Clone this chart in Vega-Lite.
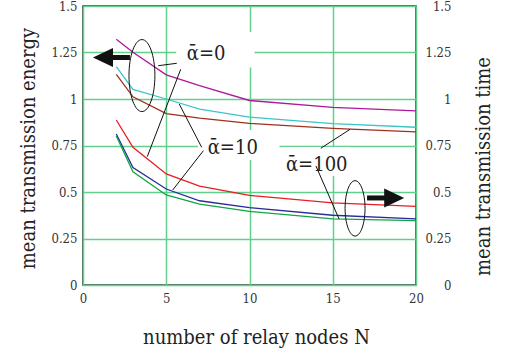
{
  "$schema": "https://vega.github.io/schema/vega-lite/v6.json",
  "autosize": "none",
  "width": 333,
  "height": 279,
  "padding": {"left": 83, "top": 6, "right": 92, "bottom": 65},
  "background": "white",
  "config": {
    "view": {"stroke": "#1e3b27", "strokeWidth": 1.5},
    "font": "DejaVu Serif Condensed, DejaVu Serif",
    "axis": {
      "labelFont": "DejaVu Serif Condensed, DejaVu Serif",
      "labelFontSize": 13,
      "labelColor": "#333333",
      "titleFont": "DejaVu Serif Condensed, DejaVu Serif",
      "titleFontSize": 20,
      "titleFontWeight": "normal",
      "titleColor": "#222222",
      "ticks": false,
      "domain": false,
      "gridColor": "#62cf8c",
      "gridWidth": 1.5,
      "gridOpacity": 1
    }
  },
  "datasets": {
    "lines": [
      {"s": "E0", "N": 2, "v": 1.321}, {"s": "E0", "N": 3, "v": 1.251}, {"s": "E0", "N": 5, "v": 1.130}, {"s": "E0", "N": 7, "v": 1.072}, {"s": "E0", "N": 10, "v": 0.992}, {"s": "E0", "N": 15, "v": 0.955}, {"s": "E0", "N": 20, "v": 0.936},
      {"s": "E10", "N": 2, "v": 1.174}, {"s": "E10", "N": 3, "v": 1.052}, {"s": "E10", "N": 5, "v": 1.000}, {"s": "E10", "N": 7, "v": 0.945}, {"s": "E10", "N": 10, "v": 0.902}, {"s": "E10", "N": 15, "v": 0.868}, {"s": "E10", "N": 20, "v": 0.848},
      {"s": "E100", "N": 2, "v": 1.133}, {"s": "E100", "N": 3, "v": 1.012}, {"s": "E100", "N": 5, "v": 0.921}, {"s": "E100", "N": 7, "v": 0.897}, {"s": "E100", "N": 10, "v": 0.869}, {"s": "E100", "N": 15, "v": 0.842}, {"s": "E100", "N": 20, "v": 0.823},
      {"s": "T0", "N": 2, "v": 0.887}, {"s": "T0", "N": 3, "v": 0.740}, {"s": "T0", "N": 5, "v": 0.597}, {"s": "T0", "N": 7, "v": 0.532}, {"s": "T0", "N": 10, "v": 0.482}, {"s": "T0", "N": 15, "v": 0.442}, {"s": "T0", "N": 20, "v": 0.423},
      {"s": "T10", "N": 2, "v": 0.812}, {"s": "T10", "N": 3, "v": 0.631}, {"s": "T10", "N": 5, "v": 0.516}, {"s": "T10", "N": 7, "v": 0.453}, {"s": "T10", "N": 10, "v": 0.416}, {"s": "T10", "N": 15, "v": 0.375}, {"s": "T10", "N": 20, "v": 0.355},
      {"s": "T100", "N": 2, "v": 0.801}, {"s": "T100", "N": 3, "v": 0.609}, {"s": "T100", "N": 5, "v": 0.484}, {"s": "T100", "N": 7, "v": 0.435}, {"s": "T100", "N": 10, "v": 0.396}, {"s": "T100", "N": 15, "v": 0.356}, {"s": "T100", "N": 20, "v": 0.346}
    ],
    "boxes": [
      {"x1": 5.6, "x2": 10.3, "y1": 1.17, "y2": 1.36},
      {"x1": 6.9, "x2": 11.8, "y1": 0.672, "y2": 0.833},
      {"x1": 11.95, "x2": 16.04, "y1": 0.586, "y2": 0.742}
    ],
    "leaders": [
      {"x1": 5.63, "y1": 1.192, "x2": 4.52, "y2": 1.179},
      {"x1": 5.87, "y1": 1.160, "x2": 3.86, "y2": 0.690},
      {"x1": 7.13, "y1": 0.740, "x2": 5.78, "y2": 0.973},
      {"x1": 7.23, "y1": 0.722, "x2": 5.39, "y2": 0.511},
      {"x1": 14.28, "y1": 0.735, "x2": 16.04, "y2": 0.837},
      {"x1": 13.99, "y1": 0.640, "x2": 15.38, "y2": 0.355}
    ],
    "labels": [
      {"N": 6.23, "v": 1.207, "t": "ᾱ=0"},
      {"N": 7.49, "v": 0.704, "t": "ᾱ=10"},
      {"N": 12.19, "v": 0.615, "t": "ᾱ=100"}
    ],
    "ellipses": [
      {"N": 3.54, "v": 1.126, "sz": 5184},
      {"N": 16.34, "v": 0.412, "sz": 3069}
    ],
    "shafts": [
      {"x1": 1.8, "x2": 2.82, "v": 1.223},
      {"x1": 17.06, "x2": 18.14, "v": 0.468}
    ],
    "headsL": [{"N": 1.20, "v": 1.223}],
    "headsR": [{"N": 18.69, "v": 0.468}]
  },
  "resolve": {"axis": {"y": "independent"}},
  "layer": [
    {
      "data": {"name": "boxes"},
      "mark": {"type": "rect", "fill": "white", "strokeWidth": 0},
      "encoding": {
        "x": {"field": "x1", "type": "quantitative", "scale": {"domain": [0, 20], "nice": false}, "axis": {"values": [0, 5, 10, 15, 20], "grid": true, "title": "number of relay nodes N", "labelPadding": 7, "labelDx": 2.5, "labelFlush": false, "titleX": 173, "titleY": 58, "titleBaseline": "alphabetic"}},
        "x2": {"field": "x2"},
        "y": {"field": "y1", "type": "quantitative", "scale": {"domain": [0, 1.5], "nice": false}, "axis": null},
        "y2": {"field": "y2"}
      }
    },
    {
      "data": {"name": "lines"},
      "mark": {"type": "line", "strokeWidth": 1.3},
      "encoding": {
        "x": {"field": "N", "type": "quantitative"},
        "y": {"field": "v", "type": "quantitative", "axis": {"orient": "left", "values": [0, 0.25, 0.5, 0.75, 1, 1.25, 1.5], "labelExpr": "'' + datum.value", "grid": true, "labelPadding": 6, "labelDy": 2, "title": "mean transmission energy", "titleX": -55, "titleY": 142, "titleAngle": 270, "titleBaseline": "middle", "titleAlign": "center"}},
        "color": {"field": "s", "type": "nominal", "legend": null, "scale": {"domain": ["E0", "E10", "E100", "T0", "T10", "T100"], "range": ["#b0189a", "#3cc4c8", "#a0301e", "#e81c24", "#2a2a9c", "#12a444"]}}
      }
    },
    {
      "data": {"name": "leaders"},
      "mark": {"type": "rule", "color": "#111111", "strokeWidth": 1},
      "encoding": {
        "x": {"field": "x1", "type": "quantitative"},
        "x2": {"field": "x2"},
        "y": {"field": "y1", "type": "quantitative", "axis": {"orient": "right", "values": [0, 0.25, 0.5, 0.75, 1, 1.25, 1.5], "labelExpr": "'' + datum.value", "grid": false, "labelAlign": "right", "labelPadding": 35, "labelDy": 2, "title": "mean transmission time", "titleX": 67, "titleY": 160, "titleAngle": 270, "titleBaseline": "middle", "titleAlign": "center"}},
        "y2": {"field": "y2"}
      }
    },
    {
      "data": {"name": "ellipses"},
      "mark": {"type": "point", "shape": "M0,-1A0.36,1 0 1,1 0,1A0.36,1 0 1,1 0,-1Z", "filled": false, "color": "#111111", "strokeWidth": 1, "opacity": 1},
      "encoding": {
        "x": {"field": "N", "type": "quantitative"},
        "y": {"field": "v", "type": "quantitative", "axis": null},
        "size": {"field": "sz", "type": "quantitative", "scale": null, "legend": null}
      }
    },
    {
      "data": {"name": "shafts"},
      "mark": {"type": "rule", "color": "#111111", "strokeWidth": 5, "strokeCap": "butt"},
      "encoding": {
        "x": {"field": "x1", "type": "quantitative"},
        "x2": {"field": "x2"},
        "y": {"field": "v", "type": "quantitative", "axis": null}
      }
    },
    {
      "data": {"name": "headsL"},
      "mark": {"type": "point", "shape": "M-1,0L1,-0.95L1,0.95Z", "filled": true, "color": "#111111", "size": 400, "opacity": 1},
      "encoding": {
        "x": {"field": "N", "type": "quantitative"},
        "y": {"field": "v", "type": "quantitative", "axis": null}
      }
    },
    {
      "data": {"name": "headsR"},
      "mark": {"type": "point", "shape": "M1,0L-1,-0.95L-1,0.95Z", "filled": true, "color": "#111111", "size": 400, "opacity": 1},
      "encoding": {
        "x": {"field": "N", "type": "quantitative"},
        "y": {"field": "v", "type": "quantitative", "axis": null}
      }
    },
    {
      "data": {"name": "labels"},
      "mark": {"type": "text", "align": "left", "baseline": "alphabetic", "font": "DejaVu Serif Condensed, DejaVu Serif", "fontSize": 20, "color": "#222222"},
      "encoding": {
        "x": {"field": "N", "type": "quantitative"},
        "y": {"field": "v", "type": "quantitative", "axis": null},
        "text": {"field": "t"}
      }
    }
  ]
}
